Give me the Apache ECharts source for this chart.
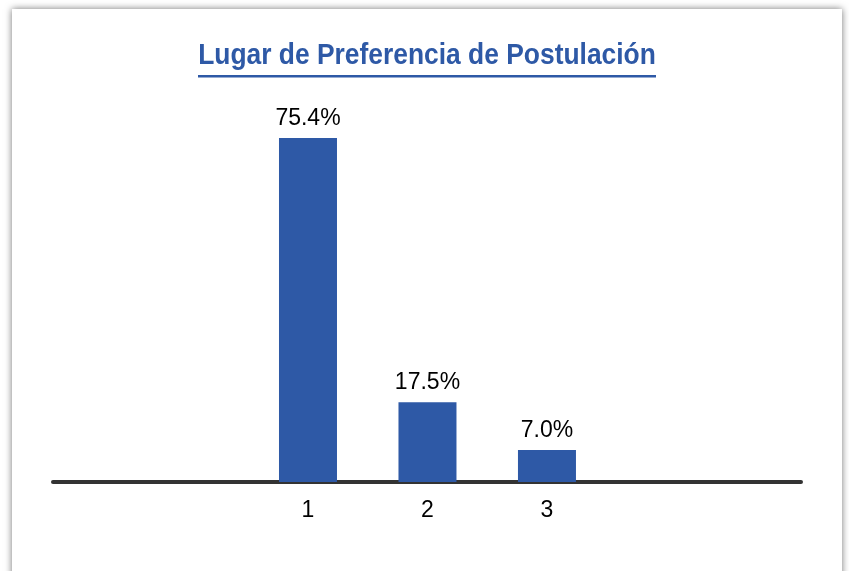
<!DOCTYPE html>
<html>
<head>
<meta charset="utf-8">
<script src="https://cdn.jsdelivr.net/npm/echarts@6/dist/echarts.min.js"></script>
<style>
	html, body { margin: 0; padding: 0; background: #fff; overflow: hidden; }
	#frame { position: absolute; left: 12px; top: 9px; width: 830px; height: 620px; background: #fff; box-shadow: 0 0 7px rgba(0,0,0,0.55); }
	#chart { position: absolute; left: 0; top: 0; width: 849px; height: 571px; }
</style>
</head>
<body>
<div id="frame"></div>
<div id="chart"></div>
<script type="text/javascript">
	// datos
	var categorias = [1, 2, 3];
	var porcentajes = [75.4, 17.5, 7.0];
	var etiquetasEje = ['1', '2', '3'];
	var titulo = 'Lugar de Preferencia de Postulación';

	var azul = '#2e59a6';
	var fuente = '"Liberation Sans", Arial, sans-serif';

	var datos = [];
	for (var i = 0; i < categorias.length; i++) {
		datos.push([categorias[i], porcentajes[i]]);
	}

	var myChart = echarts.init(document.getElementById('chart'));
	var option = {
		animation: false,
		// titulo subrayado, letra estrecha
		graphic: [
			{
				type: 'text',
				x: 427,
				y: 56,
				scaleX: 0.88,
				style: {
					text: titulo,
					fill: azul,
					font: 'bold 30px ' + fuente,
					textAlign: 'center',
					textVerticalAlign: 'middle'
				}
			},
			{
				type: 'rect',
				shape: { x: 198, y: 75, width: 458, height: 2.5 },
				style: { fill: azul }
			}
		],
		grid: { left: 53, right: 48, top: 117, bottom: 89 },
		xAxis: {
			type: 'value',
			min: -1.134,
			max: 5.126,
			splitLine: { show: false },
			axisTick: { show: false },
			axisLine: { show: true, onZero: false, lineStyle: { color: '#333', width: 4 } },
			axisLabel: {
				customValues: categorias,
				formatter: function (v) { return etiquetasEje[categorias.indexOf(v)] || ''; },
				color: '#000',
				fontFamily: fuente,
				fontSize: 23,
				margin: 17
			}
		},
		yAxis: {
			type: 'value',
			min: 0,
			max: 80,
			show: false
		},
		series: [
			{
				type: 'bar',
				barWidth: 58,
				data: datos,
				itemStyle: { color: azul },
				label: {
					show: true,
					position: 'top',
					distance: 8,
					color: '#000',
					fontFamily: fuente,
					fontSize: 23,
					formatter: function (p) { return p.value[1].toFixed(1) + '%'; }
				}
			}
		]
	};
	myChart.setOption(option);
</script>
</body>
</html>
